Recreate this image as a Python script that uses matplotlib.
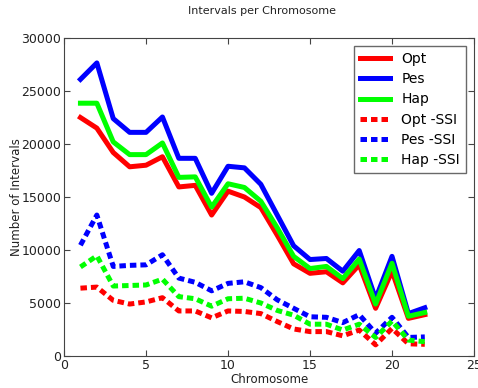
import matplotlib
matplotlib.use('Agg')
import matplotlib.pyplot as plt

chromosomes = list(range(1, 23))

opt = [22500, 21500, 19200, 17850, 18000, 18800, 15950, 16100, 13300, 15550, 15000, 14000,
       11400, 8700, 7800, 7950, 6900, 8600, 4500, 8000, 3550, 3900]
pes = [26100, 27650, 22400, 21100, 21100, 22550, 18650, 18650, 15350, 17900, 17750, 16200,
       13300, 10400, 9100, 9200, 8000, 9950, 5400, 9400, 4000, 4550]
hap = [23850, 23850, 20200, 19000, 19000, 20100, 16850, 16900, 14050, 16250, 15900, 14600,
       12100, 9400, 8250, 8450, 7300, 9150, 4900, 8750, 3750, 4100]

opt_ssi = [6400, 6500, 5250, 4900, 5100, 5500, 4250, 4250, 3600, 4250, 4200, 4000,
           3250, 2550, 2300, 2300, 1900, 2450, 1050, 2600, 1150, 1100]
pes_ssi = [10450, 13300, 8450, 8550, 8600, 9550, 7350, 6950, 6150, 6850, 7000, 6450,
           5300, 4500, 3700, 3650, 3150, 3900, 2150, 3650, 1750, 1800]
hap_ssi = [8400, 9450, 6600, 6650, 6700, 7250, 5600, 5400, 4700, 5400, 5450, 5000,
           4300, 3850, 3000, 3000, 2450, 3000, 1750, 3300, 1500, 1350]

fig = plt.figure(figsize=(4.78, 3.88), dpi=100)
ax = fig.add_axes([0.134, 0.0825, 0.8576, 0.8195])

dots = (0, (1.3, 0.8))
ax.plot(chromosomes, opt, color='#ff0000', lw=3.6, label='Opt')
ax.plot(chromosomes, pes, color='#0000ff', lw=3.6, label='Pes')
ax.plot(chromosomes, hap, color='#00ff00', lw=3.6, label='Hap')
ax.plot(chromosomes, opt_ssi, color='#ff0000', lw=3.6, ls=dots, label='Opt -SSI')
ax.plot(chromosomes, pes_ssi, color='#0000ff', lw=3.6, ls=dots, label='Pes -SSI')
ax.plot(chromosomes, hap_ssi, color='#00ff00', lw=3.6, ls=dots, label='Hap -SSI')

ax.set_xlim(0, 25)
ax.set_ylim(0, 30000)
ax.set_xticks([0, 5, 10, 15, 20, 25])
ax.set_yticks(range(0, 30001, 5000))
ax.tick_params(direction='in', top=True, right=True, labelsize=9, length=4, pad=2,
               labelcolor='#222222', color='#444444')
for s in ax.spines.values():
    s.set_color('#444444')

ax.set_xlabel('Chromosome', fontsize=8.5, labelpad=1, color='#222222')
ax.set_ylabel('Number of Intervals', fontsize=8.5, color='#222222')
ax.yaxis.set_label_coords(-0.1, 0.5)
fig.text(262 / 478, 1 - 11 / 388, 'Intervals per Chromosome', ha='center', va='center',
         fontsize=8, color='#222222')

leg = ax.legend(loc='upper right', fontsize=10, fancybox=False, handlelength=2.2,
                borderaxespad=0.6, labelspacing=0.45)
leg.get_frame().set_edgecolor('#444444')
leg.get_frame().set_linewidth(1)

fig.savefig('out.png', dpi=100)
